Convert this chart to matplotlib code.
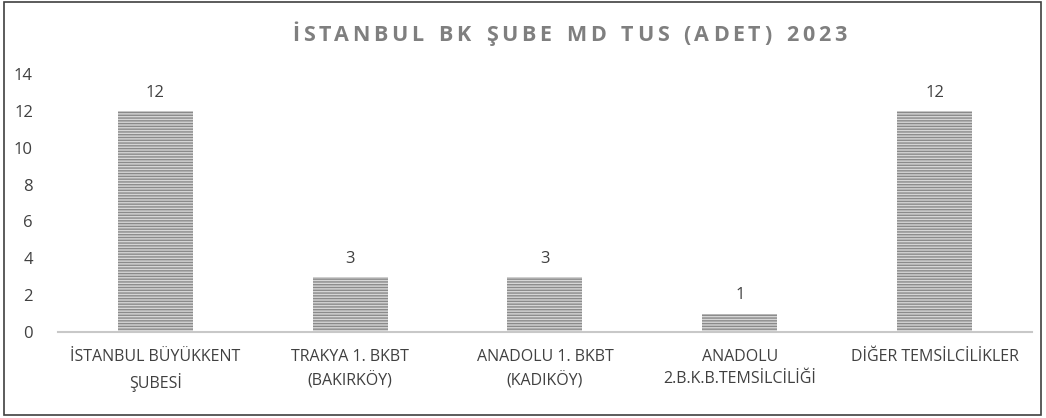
import matplotlib.pyplot as plt
from matplotlib.patches import Rectangle

categories = ['İSTANBUL BÜYÜKKENT\nŞUBESİ', 'TRAKYA 1. BKBT\n(BAKIRKÖY)',
              'ANADOLU 1. BKBT\n(KADIKÖY)', 'ANADOLU\n2.B.K.B.TEMSİLCİLİĞİ',
              'DİĞER TEMSİLCİLİKLER']
values = [12, 3, 3, 1, 12]
title = 'İSTANBUL BK ŞUBE MD TUS (ADET) 2023'

plt.rcParams['font.family'] = ['Open Sans', 'DejaVu Sans']
plt.rcParams['hatch.linewidth'] = 1.0

fig = plt.figure(figsize=(10.46, 4.18), dpi=100)
ax = fig.add_axes([0.0554, 0.2057, 0.9312, 0.6173])

x = range(len(categories))
ax.bar(x, values, width=0.385, color='#d6d6d6', linewidth=0)
ax.bar(x, values, width=0.385, color='none', edgecolor='#8a8a8a',
       hatch='------', linewidth=0)
for i, v in zip(x, values):
    ax.text(i, v + 0.55, str(v), ha='center', va='bottom',
            fontsize=12, color='#404040')

ax.set_xlim(-0.5, len(categories) - 0.5)
ax.set_ylim(0, 14)
ax.set_yticks(range(0, 15, 2))
ax.set_xticks(list(x))
ax.set_xticklabels(categories, fontsize=11.5, color='#404040', linespacing=1.55)
ax.tick_params(axis='y', labelsize=12, labelcolor='#404040', length=0, pad=18)
ax.tick_params(axis='x', length=0, pad=12)
for s in ['top', 'right', 'left']:
    ax.spines[s].set_visible(False)
ax.spines['bottom'].set_color('#c8c8c8')
ax.spines['bottom'].set_linewidth(1.5)

# title with wide letter spacing, drawn character by character
fig.canvas.draw()
renderer = fig.canvas.get_renderer()
tprops = dict(fontsize=15.5, fontweight='bold', color='#7f7f7f', va='center', ha='left')
spacing = 3.6
widths = []
for ch in title:
    t = fig.text(0, 0, ch if ch != ' ' else 'n', **tprops)
    w = t.get_window_extent(renderer).width
    widths.append(w * 0.55 if ch == ' ' else w)
    t.remove()
total = sum(widths) + spacing * (len(title) - 1)
xpos = 569 - total / 2
for ch, w in zip(title, widths):
    if ch != ' ':
        fig.text(xpos / 1046, 0.915, ch, **tprops)
    xpos += w + spacing

fig.patches.append(Rectangle((0.004, 0.006), 0.991, 0.99, transform=fig.transFigure,
                             fill=False, edgecolor='#404040', linewidth=1.2))

plt.savefig('out.png', dpi=100)
